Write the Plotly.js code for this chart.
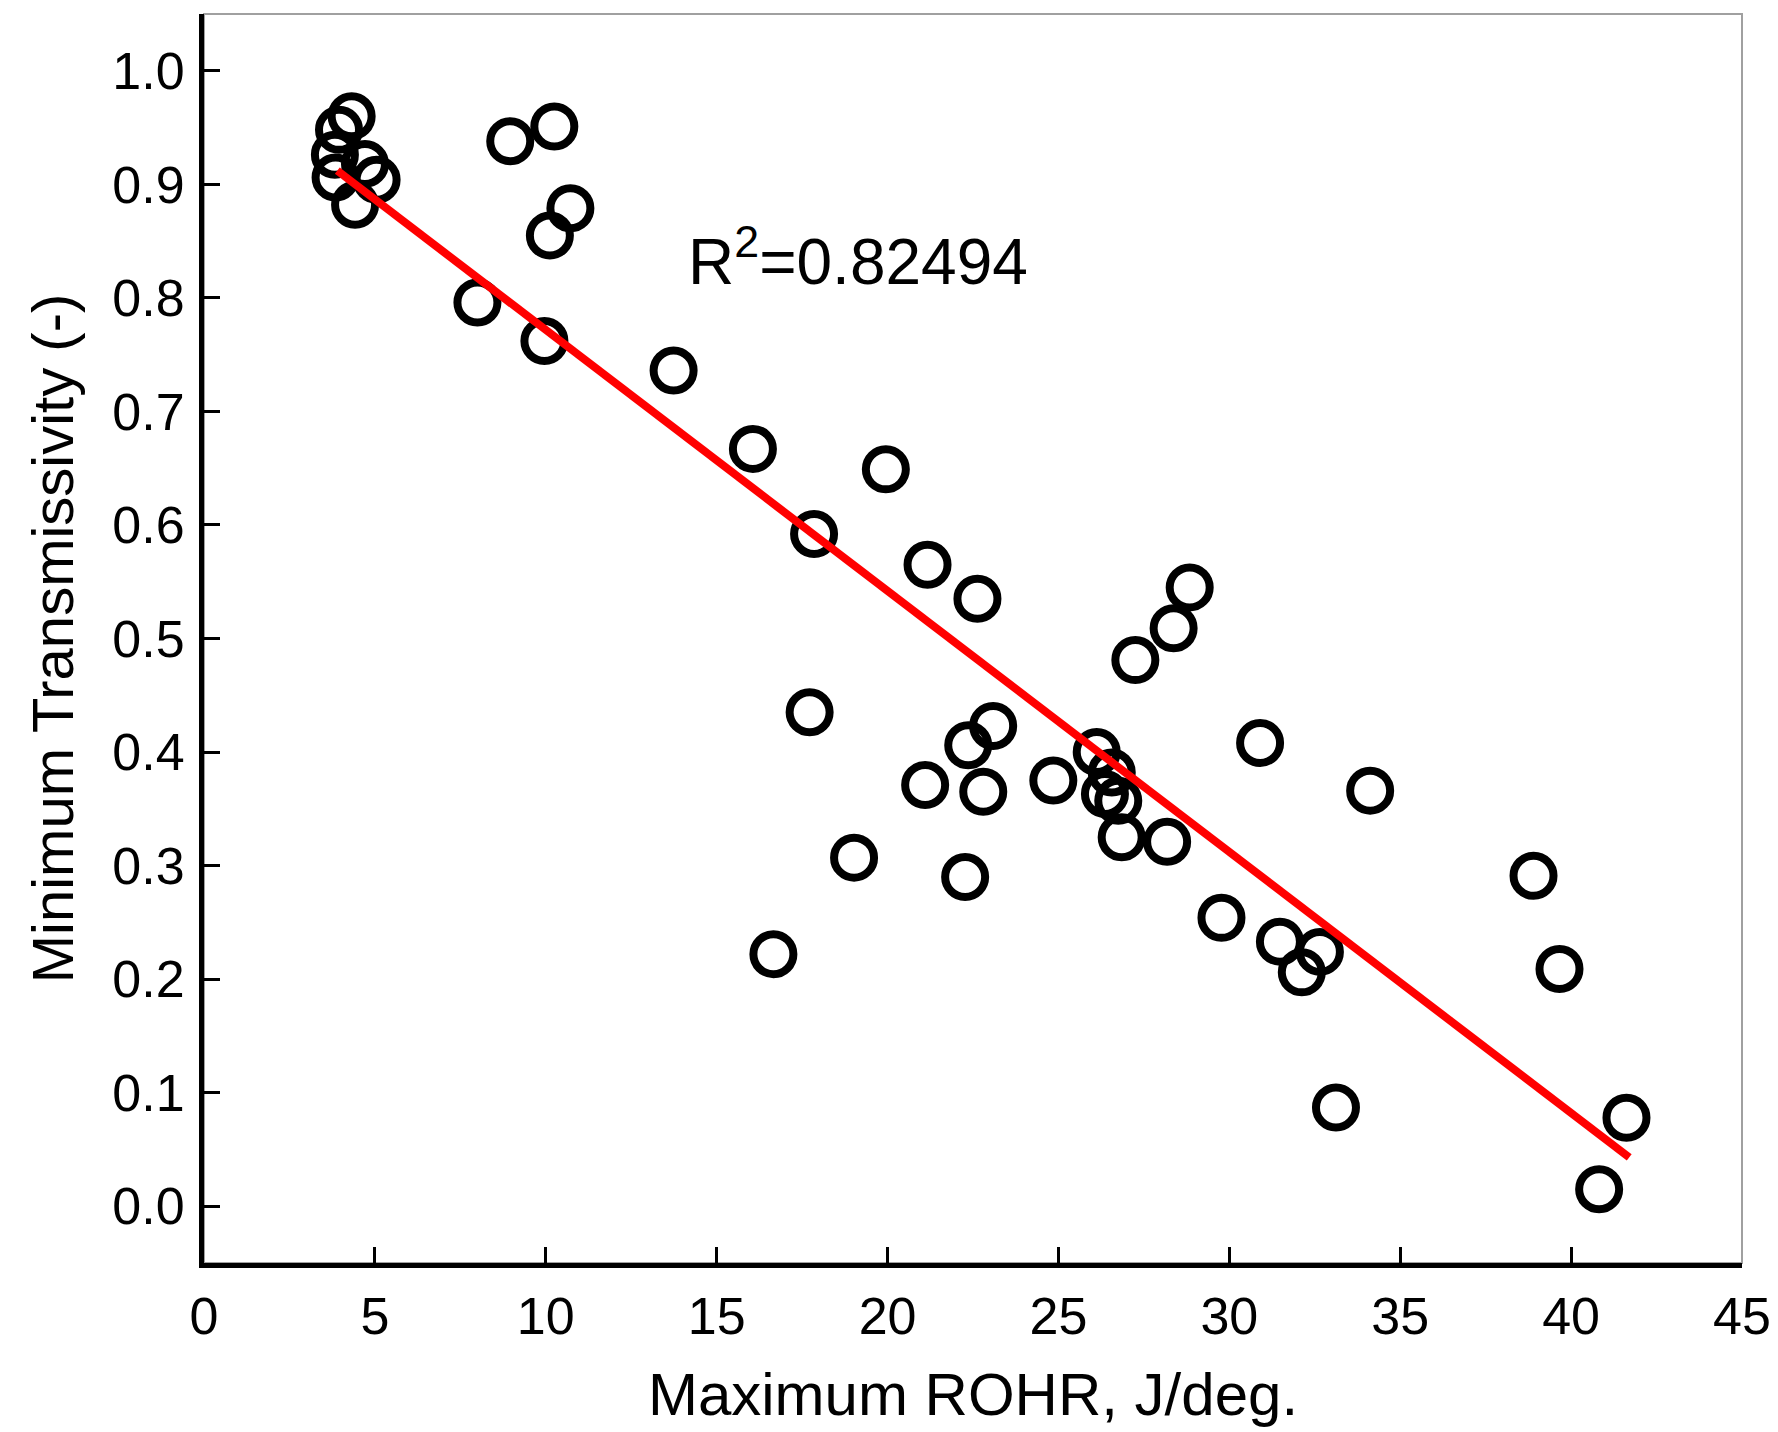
<!DOCTYPE html>
<html>
<head>
<meta charset="utf-8">
<script src="https://cdn.plot.ly/plotly-3.0.1.min.js"></script>
<style>html,body{margin:0;padding:0;background:#fff;}#chart{width:1778px;height:1432px;}</style>
</head>
<body>
<div id="chart"></div>
<script>
// Measured points: Maximum ROHR (J/deg.) vs Minimum Transmissivity (-)
const rohr = [4.32, 3.95, 3.83, 4.71, 5.05, 3.85, 4.42, 8.96, 10.25, 10.72, 10.12, 8.00, 9.96, 13.74, 16.06, 19.95, 17.85, 21.17, 22.63, 28.84, 28.37, 27.25, 17.72, 23.09, 22.36, 30.90, 26.12, 26.56, 21.10, 24.85, 26.36, 26.75, 22.80, 34.12, 26.85, 28.18, 19.02, 22.27, 38.90, 29.77, 31.48, 32.12, 32.65, 39.66, 16.66, 33.12, 41.62, 40.82];
const transmissivity = [0.960, 0.948, 0.926, 0.918, 0.904, 0.906, 0.882, 0.938, 0.951, 0.879, 0.855, 0.796, 0.762, 0.736, 0.667, 0.649, 0.592, 0.565, 0.535, 0.545, 0.509, 0.481, 0.435, 0.423, 0.406, 0.408, 0.400, 0.382, 0.371, 0.375, 0.363, 0.357, 0.365, 0.366, 0.325, 0.321, 0.307, 0.290, 0.291, 0.254, 0.233, 0.206, 0.224, 0.209, 0.222, 0.087, 0.078, 0.015];
// Linear fit line end points
const fitX = [3.9, 41.7];
const fitY = [0.912, 0.043];
const r2Label = "R<sup>2</sup>=0.82494";
const xTickVals = [0, 5, 10, 15, 20, 25, 30, 35, 40, 45];
const yTickVals = [0.0, 0.1, 0.2, 0.3, 0.4, 0.5, 0.6, 0.7, 0.8, 0.9, 1.0];

const FONT = "Liberation Sans, Arial, sans-serif";

const traces = [
  {
    type: "scatter", mode: "markers", x: rohr, y: transmissivity,
    marker: {symbol: "circle-open", size: 40, color: "#000", line: {width: 8, color: "#000"}},
    showlegend: false, hoverinfo: "x+y"
  },
  {
    type: "scatter", mode: "lines", x: fitX, y: fitY,
    line: {color: "#ff0000", width: 8},
    showlegend: false
  }
];

const layout = {
  width: 1778, height: 1432,
  margin: {l: 204, r: 36, t: 14, b: 169},
  paper_bgcolor: "#fff", plot_bgcolor: "#fff",
  font: {family: FONT, color: "#000"},
  xaxis: {
    range: [0, 45], tickvals: xTickVals, ticks: "inside", ticklen: 16, tickwidth: 3, tickcolor: "#000",
    showline: true, linewidth: 5, linecolor: "#000", showgrid: false, zeroline: false,
    tickfont: {size: 52, family: FONT}, ticklabelstandoff: 4,
    title: {text: "Maximum ROHR, J/deg.", font: {size: 60, family: FONT}, standoff: 30}
  },
  yaxis: {
    range: [-0.05, 1.05], tickvals: yTickVals, tickformat: ".1f", ticks: "inside", ticklen: 16, tickwidth: 3, tickcolor: "#000",
    showline: true, linewidth: 5, linecolor: "#000", showgrid: false, zeroline: false,
    tickfont: {size: 52, family: FONT}, ticklabelstandoff: 4,
    title: {text: "Minimum Transmissivity (-)", font: {size: 58, family: FONT}, standoff: 22}
  },
  shapes: [
    {type: "rect", xref: "paper", yref: "paper", x0: 0, x1: 1, y0: 0, y1: 1, line: {color: "#a0a0a0", width: 2}, layer: "below"}
  ],
  annotations: [
    {x: 14.1, y: 0.836, xref: "x", yref: "y", text: r2Label, showarrow: false, xanchor: "left", yanchor: "middle",
     font: {size: 64, family: FONT, color: "#000"}}
  ]
};

Plotly.newPlot("chart", traces, layout, {displayModeBar: false, staticPlot: true});
</script>
</body>
</html>
